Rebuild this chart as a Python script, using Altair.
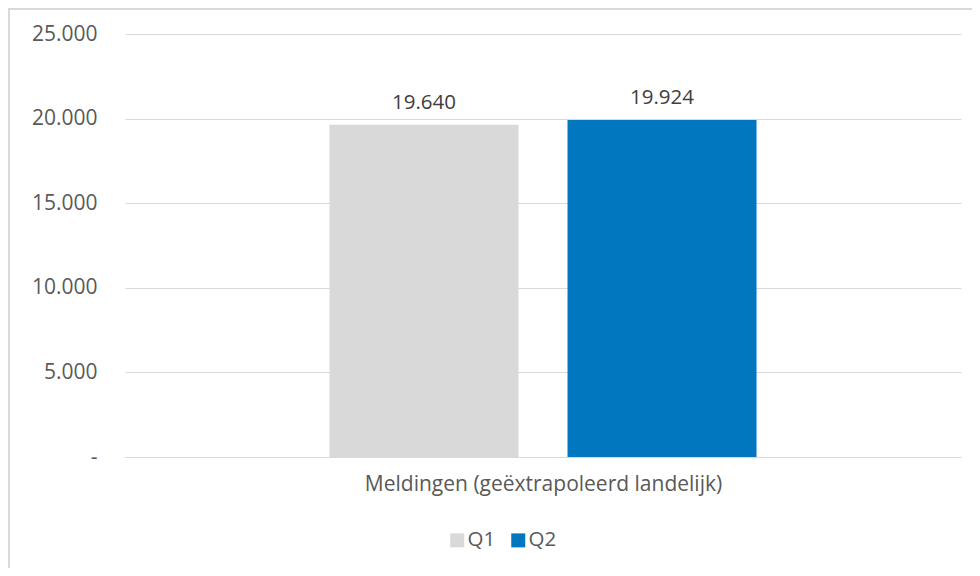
import altair as alt
import pandas as pd

series = ["Q1", "Q2"]
values = [19640, 19924]
colors = ["#D9D9D9", "#0077BE"]
category = "Meldingen (geëxtrapoleerd landelijk)"
y_ticks = [0, 5000, 10000, 15000, 20000, 25000]

df = pd.DataFrame({"serie": series, "waarde": values})
df["label"] = [f"{v:,}".replace(",", ".") for v in values]

FONT = "Open Sans"
FS = 20.5
W, H = 836, 423

xscale = alt.Scale(domain=series, paddingInner=0.206, paddingOuter=0.859)

x_enc = alt.X(
    "serie:N",
    scale=xscale,
    axis=alt.Axis(
        title=category, labels=False, ticks=False, domain=True,
        domainColor="#D9D9D9", domainWidth=1,
        titleFont=FONT, titleFontSize=21, titleFontWeight="normal",
        titleColor="#595959", titlePadding=16,
    ),
)
y_enc = alt.Y(
    "waarde:Q",
    scale=alt.Scale(domain=[0, 25000], nice=False),
    axis=alt.Axis(
        title=None, values=y_ticks, domain=False, ticks=False,
        gridColor="#D9D9D9", gridWidth=1,
        labelFont=FONT, labelFontSize=21, labelColor="#595959", labelPadding=28,
        labelExpr="datum.value == 0 ? '-\u00a0\u00a0' : replace(format(datum.value, ','), ',', '.')",
    ),
)

frame_df = pd.DataFrame({"k": [1]})
frame = alt.Chart(frame_df).mark_rect(
    fill=None, stroke="#D9D9D9", strokeWidth=2
).encode(
    x=alt.value(-116), x2=alt.value(900), y=alt.value(-25), y2=alt.value(700)
)

bars = alt.Chart(df).mark_bar().encode(
    x=x_enc,
    y=y_enc,
    color=alt.Color(
        "serie:N",
        scale=alt.Scale(domain=series, range=colors),
        legend=alt.Legend(
            title=None, orient="none", legendX=322, legendY=496,
            direction="horizontal", symbolType="square", symbolSize=196,
            symbolStrokeWidth=0, labelFont=FONT, labelFontSize=FS,
            labelColor="#595959", labelOffset=0, columnPadding=12,
        ),
    ),
)

text = alt.Chart(df).mark_text(
    baseline="bottom", dy=-12, font=FONT, fontSize=FS, color="#404040"
).encode(
    x=alt.X("serie:N", scale=xscale),
    y=alt.Y("waarde:Q"),
    text="label:N",
)

chart = alt.layer(frame, bars, text).properties(
    width=W, height=H,
    background="white",
    autosize=alt.AutoSizeParams(type="none"),
    padding={"left": 117, "top": 26, "right": 11, "bottom": 111},
).configure_view(stroke=None)

chart.save("out.html", embed_options={"renderer": "svg", "actions": False})
